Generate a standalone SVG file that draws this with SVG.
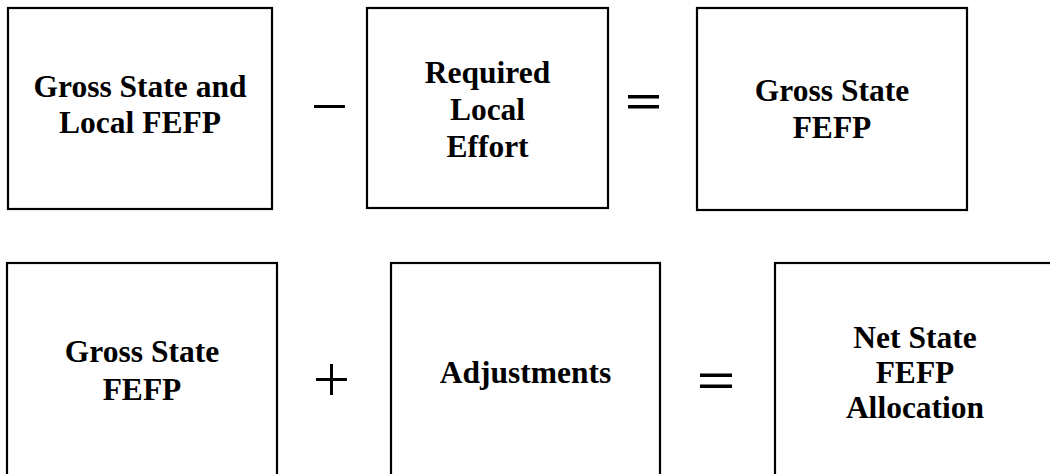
<svg xmlns="http://www.w3.org/2000/svg" width="1050" height="474" viewBox="0 0 1050 474">
<style>
.box{fill:#fff;stroke:#000;stroke-width:2.2}
.t{font-family:"Liberation Serif","Times New Roman",serif;font-weight:bold;font-size:31.5px;fill:#000;text-anchor:middle}
.op{fill:#000}
</style>
<rect width="1050" height="474" fill="#fff"/>
<g id="gross-state-local">
<rect class="box" x="8" y="8" width="264" height="201"/>
<text class="t" x="140" y="97">Gross State and</text>
<text class="t" x="140" y="133">Local FEFP</text>
</g>
<g id="required-local-effort">
<rect class="box" x="367" y="8" width="241" height="200"/>
<text class="t" x="487.5" y="83">Required</text>
<text class="t" x="487.5" y="120">Local</text>
<text class="t" x="487.5" y="157">Effort</text>
</g>
<g id="gross-state-1">
<rect class="box" x="697" y="8" width="270" height="202"/>
<text class="t" x="832" y="101">Gross State</text>
<text class="t" x="832" y="138">FEFP</text>
</g>
<g id="gross-state-2">
<rect class="box" x="7" y="263" width="270" height="230"/>
<text class="t" x="142" y="362">Gross State</text>
<text class="t" x="142" y="400">FEFP</text>
</g>
<g id="adjustments">
<rect class="box" x="391" y="263" width="269" height="230"/>
<text class="t" x="525.5" y="383">Adjustments</text>
</g>
<g id="net-state">
<rect class="box" x="775" y="263" width="290" height="230"/>
<text class="t" x="915" y="348">Net State</text>
<text class="t" x="915" y="383">FEFP</text>
<text class="t" x="915" y="418">Allocation</text>
</g>
<g id="operators">
<rect class="op" x="314" y="105" width="31" height="3"/>
<rect class="op" x="628" y="95" width="31" height="3.5"/>
<rect class="op" x="628" y="105" width="31" height="3.5"/>
<rect class="op" x="316" y="378" width="31" height="3"/>
<rect class="op" x="330" y="364" width="3" height="31"/>
<rect class="op" x="700" y="373.5" width="32" height="3.5"/>
<rect class="op" x="700" y="384.5" width="32" height="3.5"/>
</g>
</svg>
